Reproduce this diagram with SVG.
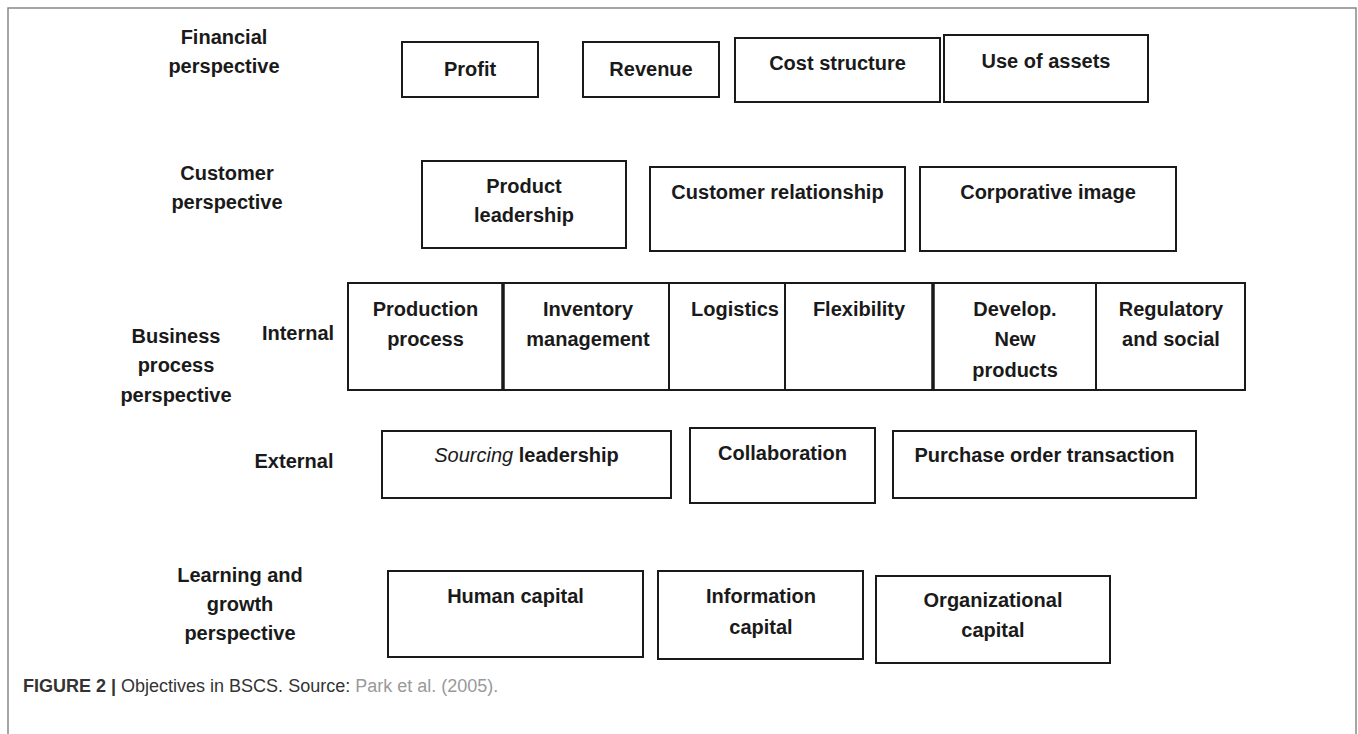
<svg xmlns="http://www.w3.org/2000/svg" width="1358" height="734" viewBox="0 0 1358 734">
<style>
.bx{fill:#fff;stroke:#1a1a1a;stroke-width:2}
.t{font-family:"Liberation Sans",Arial,sans-serif;font-weight:bold;font-size:20px;fill:#1a1a1a;text-anchor:middle}
.lab{font-family:"Liberation Sans",Arial,sans-serif;font-weight:bold;font-size:20px;fill:#1a1a1a;text-anchor:middle}
.cap{font-family:"Liberation Sans",Arial,sans-serif;font-size:18px;fill:#333}
</style>
<rect x="0" y="0" width="1358" height="734" fill="#fff"/>
<path d="M8,734 V8 H1356 V734" fill="none" stroke="#888" stroke-width="1.5"/>

<g id="labels">
<text class="lab" x="224" y="44">Financial</text>
<text class="lab" x="224" y="73">perspective</text>
<text class="lab" x="227" y="180">Customer</text>
<text class="lab" x="227" y="209">perspective</text>
<text class="lab" x="176" y="343">Business</text>
<text class="lab" x="176" y="372">process</text>
<text class="lab" x="176" y="402">perspective</text>
<text class="lab" x="298" y="340">Internal</text>
<text class="lab" x="294" y="468">External</text>
<text class="lab" x="240" y="582">Learning and</text>
<text class="lab" x="240" y="611">growth</text>
<text class="lab" x="240" y="640">perspective</text>
</g>

<g id="profit"><rect class="bx" x="402" y="42" width="136" height="55"/><text class="t" x="470" y="76">Profit</text></g>
<g id="revenue"><rect class="bx" x="583" y="42" width="136" height="55"/><text class="t" x="651" y="76">Revenue</text></g>
<g id="cost-structure"><rect class="bx" x="735" y="38" width="205" height="64"/><text class="t" x="837.5" y="70">Cost structure</text></g>
<g id="use-of-assets"><rect class="bx" x="944" y="35" width="204" height="67"/><text class="t" x="1046" y="68">Use of assets</text></g>

<g id="product-leadership"><rect class="bx" x="422" y="161" width="204" height="87"/><text class="t" x="524" y="193">Product</text><text class="t" x="524" y="222">leadership</text></g>
<g id="customer-relationship"><rect class="bx" x="650" y="167" width="255" height="84"/><text class="t" x="777.5" y="199">Customer relationship</text></g>
<g id="corporative-image"><rect class="bx" x="920" y="167" width="256" height="84"/><text class="t" x="1048" y="199">Corporative image</text></g>

<g id="internal-row">
<rect class="bx" x="348" y="283" width="897" height="107"/>
<line x1="669" y1="283" x2="669" y2="390" stroke="#1a1a1a" stroke-width="2"/>
<line x1="785" y1="283" x2="785" y2="390" stroke="#1a1a1a" stroke-width="2"/>
<line x1="1096" y1="283" x2="1096" y2="390" stroke="#1a1a1a" stroke-width="2"/>
<line x1="503" y1="283" x2="503" y2="390" stroke="#1a1a1a" stroke-width="3.5"/>
<line x1="933" y1="283" x2="933" y2="390" stroke="#1a1a1a" stroke-width="3.5"/>
</g>
<g id="production-process"><text class="t" x="425.5" y="316">Production</text><text class="t" x="425.5" y="346">process</text></g>
<g id="inventory-management"><text class="t" x="588" y="316">Inventory</text><text class="t" x="588" y="346">management</text></g>
<g id="logistics"><text class="t" x="735" y="316">Logistics</text></g>
<g id="flexibility"><text class="t" x="859" y="316">Flexibility</text></g>
<g id="develop-new-products"><text class="t" x="1015" y="316">Develop.</text><text class="t" x="1015" y="346">New</text><text class="t" x="1015" y="377">products</text></g>
<g id="regulatory-social"><text class="t" x="1171" y="316">Regulatory</text><text class="t" x="1171" y="346">and social</text></g>

<g id="sourcing-leadership"><rect class="bx" x="382" y="431" width="289" height="67"/><text class="t" x="526.5" y="462"><tspan font-style="italic" font-weight="normal">Sourcing</tspan> leadership</text></g>
<g id="collaboration"><rect class="bx" x="690" y="428" width="185" height="75"/><text class="t" x="782.5" y="460">Collaboration</text></g>
<g id="purchase-order"><rect class="bx" x="893" y="431" width="303" height="67"/><text class="t" x="1044.5" y="462">Purchase order transaction</text></g>

<g id="human-capital"><rect class="bx" x="388" y="571" width="255" height="86"/><text class="t" x="515.5" y="603">Human capital</text></g>
<g id="information-capital"><rect class="bx" x="658" y="571" width="205" height="88"/><text class="t" x="761" y="603">Information</text><text class="t" x="761" y="634">capital</text></g>
<g id="organizational-capital"><rect class="bx" x="876" y="576" width="234" height="87"/><text class="t" x="993" y="607">Organizational</text><text class="t" x="993" y="637">capital</text></g>

<g id="connectors"></g>

<text class="cap" x="23" y="692"><tspan font-weight="bold">FIGURE 2 |</tspan> Objectives in BSCS. Source: <tspan fill="#999">Park et al. (2005).</tspan></text>
</svg>
